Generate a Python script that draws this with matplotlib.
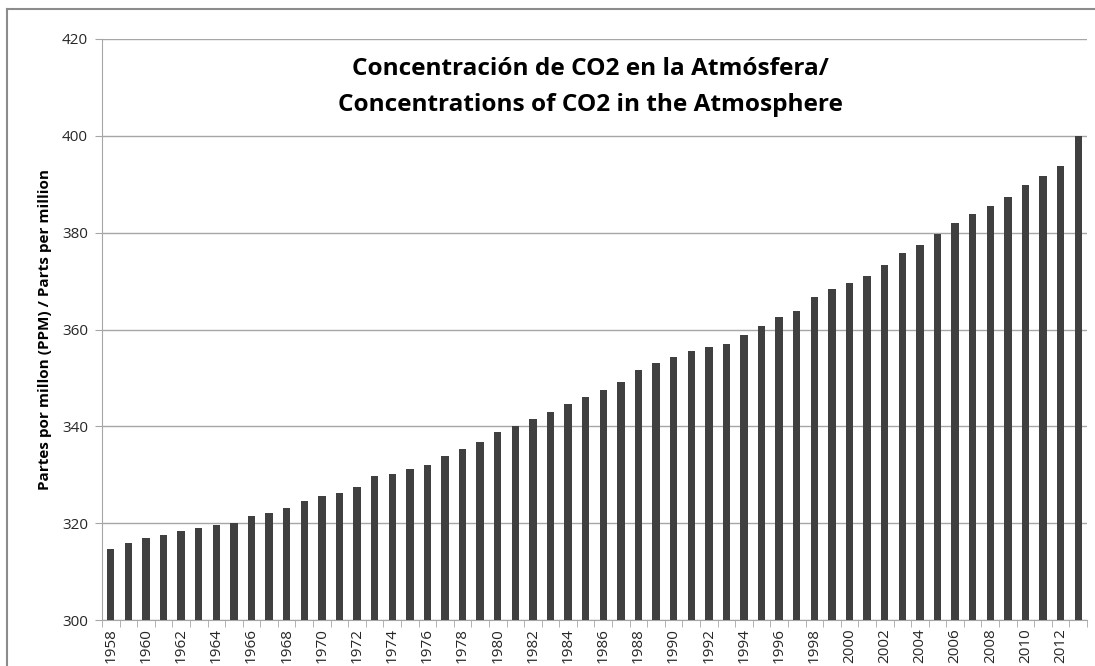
"""
CO2 concentration bar chart (Mauna Loa annual means), recreated.
"""

import matplotlib.pyplot as plt
from matplotlib.lines import Line2D
import numpy as np

years = list(range(1958, 2014))
ppm = [
    314.7, 315.97, 316.91, 317.64, 318.45, 318.99, 319.62, 320.04, 321.38, 322.16,
    323.04, 324.62, 325.68, 326.32, 327.45, 329.68, 330.18, 331.11, 332.04, 333.83,
    335.40, 336.84, 338.75, 340.11, 341.45, 343.05, 344.65, 346.12, 347.42, 349.19,
    351.57, 353.12, 354.39, 355.61, 356.45, 357.10, 358.83, 360.82, 362.61, 363.73,
    366.70, 368.38, 369.55, 371.14, 373.28, 375.80, 377.52, 379.80, 381.90, 383.79,
    385.60, 387.43, 389.90, 391.65, 393.85, 400.0,
]
yticks = [300, 320, 340, 360, 380, 400, 420]

title = "Concentración de CO2 en la Atmósfera/\nConcentrations of CO2 in the Atmosphere"
ylabel = "Partes por millon (PPM) / Parts per million"

plt.rcParams['font.family'] = ['Open Sans', 'DejaVu Sans']

fig = plt.figure(figsize=(10.95, 6.66), dpi=100)
ax = fig.add_axes([102 / 1095, 46 / 666, 985 / 1095, 581 / 666])

x = np.arange(len(years))
ax.bar(x, ppm, width=0.42, color="#404040", zorder=3)

ax.set_ylim(300, 420)
ax.set_xlim(-0.5, len(years) - 0.5)
ax.set_yticks(yticks)
ax.set_yticklabels([str(v) for v in yticks], fontsize=11, color="#262626")
ax.yaxis.grid(True, color="#a6a6a6", linewidth=1, zorder=0)
ax.tick_params(axis="y", length=5, color="#a6a6a6", pad=5)

# category boundary ticks, labels every other year
ax.set_xticks(np.arange(len(years) + 1) - 0.5, minor=True)
ax.set_xticks(x[::2])
ax.set_xticklabels([str(y) for y in years[::2]], rotation=90, fontsize=11, color="#262626")
ax.tick_params(axis="x", which="major", length=0, pad=6)
ax.tick_params(axis="x", which="minor", length=5, color="#a6a6a6")

for side in ["top", "right"]:
    ax.spines[side].set_visible(False)
for side in ["left", "bottom"]:
    ax.spines[side].set_color("#a6a6a6")

ax.set_ylabel(ylabel, fontsize=11, fontweight="bold", labelpad=7)

fig.text(590 / 1095, 1 - 87 / 666, title, ha="center", va="center",
         fontsize=17.6, fontweight="bold", linespacing=1.65)

# outer chart frame (only top and left edges are inside the picture)
top = 1 - 9 / 666
left = 7 / 1095
fig.lines.append(Line2D([left, 1.0], [top, top], transform=fig.transFigure,
                        color="#8c8c8c", linewidth=1.5))
fig.lines.append(Line2D([left, left], [0.0, top], transform=fig.transFigure,
                        color="#8c8c8c", linewidth=1.5))

plt.savefig("out.png", dpi=100)
